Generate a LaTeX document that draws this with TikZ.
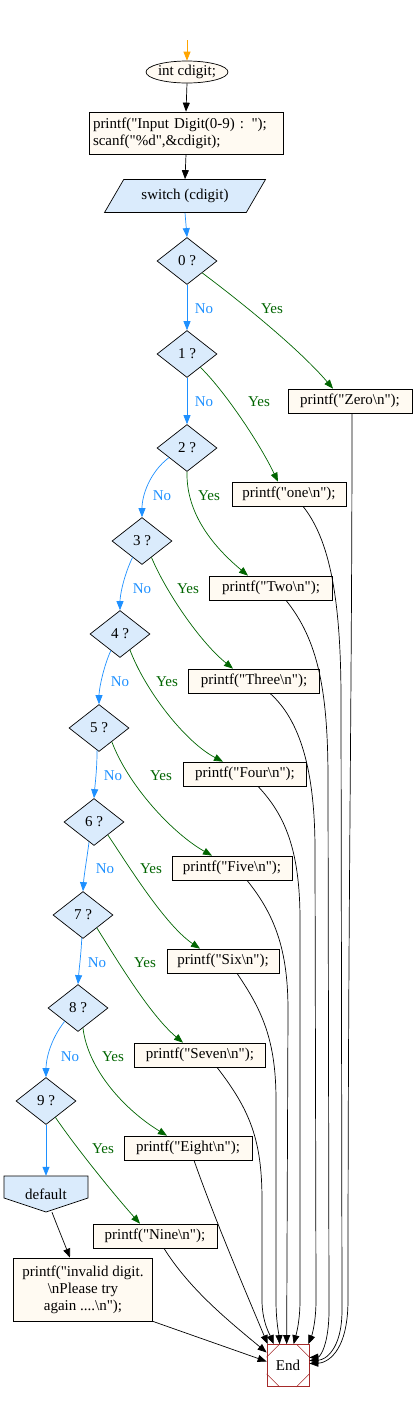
\documentclass[tikz,border=0pt]{standalone}
\usepackage{fontspec}
\setmainfont{Liberation Serif}[Ligatures=TeXOff]
\usetikzlibrary{shapes.geometric,arrows.meta,calc}
\definecolor{dfill}{RGB}{218,235,252}
\definecolor{bfill}{RGB}{255,250,242}
\definecolor{noblue}{RGB}{30,144,255}
\definecolor{yesgreen}{RGB}{0,100,0}
\definecolor{endred}{RGB}{165,42,42}
\definecolor{orng}{RGB}{255,165,0}
\begin{document}
\begin{tikzpicture}[x=1pt,y=-1pt,
  font=\fontsize{15}{17}\selectfont,
  every node/.style={inner sep=0pt},
  arr/.style={-{Triangle[length=9pt,width=7pt]}, line width=0.7pt},
  no/.style={arr, draw=noblue},
  yes/.style={arr, draw=yesgreen},
  dec/.style={diamond, draw, fill=dfill, minimum width=60pt, minimum height=47pt, line width=0.7pt},
  pbox/.style={rectangle, draw, fill=bfill, line width=0.7pt, minimum height=24pt},
  nolab/.style={text=noblue},
  yeslab/.style={text=yesgreen}]
\useasboundingbox (0,0) rectangle (413,1401);

% top part
\coordinate (top) at (187,40);
\node[ellipse, draw, fill=bfill, minimum width=81pt, minimum height=22pt, line width=0.7pt] (e) at (187,72) {int cdigit;};
\node[rectangle, draw, fill=bfill, line width=0.7pt, text width=186pt, align=left, inner sep=4pt, minimum height=42pt] (inp) at (186,133)
  {printf("Input Digit(0-9) : ");\\scanf("\%d",\&cdigit);};
\node[trapezium, trapezium left angle=45, trapezium right angle=135, trapezium stretches=true,
  minimum width=161pt, minimum height=33pt, draw, fill=dfill, line width=0.7pt] (sw) at (185,196) {switch (cdigit)};

% decisions
\node[dec] (d0) at (187,261) {0 ?};
\node[dec] (d1) at (187,354) {1 ?};
\node[dec] (d2) at (187,448) {2 ?};
\node[dec] (d3) at (142,541) {3 ?};
\node[dec] (d4) at (120,634) {4 ?};
\node[dec] (d5) at (99,728) {5 ?};
\node[dec] (d6) at (94,822) {6 ?};
\node[dec] (d7) at (83,915) {7 ?};
\node[dec] (d8) at (78,1008) {8 ?};
\node[dec] (d9) at (46,1101) {9 ?};

% output boxes
\node[pbox, minimum width=124pt] (Zero) at (350,401) {printf("Zero\textbackslash n");};
\node[pbox, minimum width=114pt] (one) at (289,494) {printf("one\textbackslash n");};
\node[pbox, minimum width=123pt] (Two) at (271,588) {printf("Two\textbackslash n");};
\node[pbox, minimum width=131pt] (Three) at (254,681) {printf("Three\textbackslash n");};
\node[pbox, minimum width=123pt] (Four) at (245,774) {printf("Four\textbackslash n");};
\node[pbox, minimum width=120pt] (Five) at (232,868) {printf("Five\textbackslash n");};
\node[pbox, minimum width=112pt] (Six) at (223,961) {printf("Six\textbackslash n");};
\node[pbox, minimum width=131pt] (Seven) at (200,1055) {printf("Seven\textbackslash n");};
\node[pbox, minimum width=128pt] (Eight) at (188,1148) {printf("Eight\textbackslash n");};
\node[pbox, minimum width=124pt] (Nine) at (155,1236) {printf("Nine\textbackslash n");};

% default
\draw[fill=dfill, line width=0.7pt] (4,1176) -- (88,1176) -- (88,1198) -- (46,1212) -- (4,1198) -- cycle;
\node[minimum width=84pt, minimum height=36pt] (def) at (46,1194) {default};

\node[rectangle, draw, fill=bfill, line width=0.7pt, minimum width=139pt, minimum height=63pt, align=center] (inv) at (83,1289.5)
  {printf("invalid digit.\\\textbackslash nPlease try\\again ....\textbackslash n");};

% End
\node[rectangle, draw=endred, minimum size=42pt, line width=0.7pt] (End) at (288,1365.5) {End};
\draw[endred, line width=0.6pt] ($(End.north west)+(13,0)$) -- ($(End.north west)+(0,13)$);
\draw[endred, line width=0.6pt] ($(End.north east)+(-13,0)$) -- ($(End.north east)+(0,13)$);
\draw[endred, line width=0.6pt] ($(End.south west)+(13,0)$) -- ($(End.south west)+(0,-13)$);
\draw[endred, line width=0.6pt] ($(End.south east)+(-13,0)$) -- ($(End.south east)+(0,-13)$);

% top connectors
\draw[arr, draw=orng] (top) -- (e.north);
\draw[arr] (e.south) -- (inp.north);
\draw[arr] (inp.south) -- (sw.north);

% No edges
\draw[no] (sw.south) -- (d0.north);
\draw[no] (d0.south) -- (d1.north);
\draw[no] (d1.south) -- (d2.north);
\draw[no] (d2.-152) .. controls (150,472) and (142,495) .. (d3.north);
\draw[no] (d3.-120) .. controls (124,575) and (120,595) .. (d4.north);
\draw[no] (d4.-119) .. controls (103,668) and (99,690) .. (d5.north);
\draw[no] (d5.-95) .. controls (97,770) and (95,785) .. (d6.north);
\draw[no] (d6.-104) .. controls (87,858) and (84,875) .. (d7.north);
\draw[no] (d7.-93) .. controls (81,955) and (79,970) .. (d8.north);
\draw[no] (d8.-135) .. controls (50,1040) and (46,1060) .. (d9.north);
\draw[no] (d9.south) -- (def.north);

% No labels
\node[nolab] (n0) at (204,309) {No};
\node[nolab] (n1) at (204,402) {No};
\node[nolab] (n2) at (162,496) {No};
\node[nolab] (n3) at (142,589) {No};
\node[nolab] (n4) at (120,682) {No};
\node[nolab] (n5) at (113,776) {No};
\node[nolab] (n6) at (105,869) {No};
\node[nolab] (n7) at (97,963) {No};
\node[nolab] (n8) at (70,1057) {No};

% Yes edges
\draw[yes] (d0.-38) .. controls (245,305) and (300,350) .. ([xshift=-17pt]Zero.north);
\draw[yes] (d1.-45) .. controls (222,388) and (258,440) .. ([xshift=-11pt]one.north);
\draw[yes] (d2.south) .. controls (186,515) and (215,548) .. ([xshift=-23pt]Two.north);
\draw[yes] (d3.-60) .. controls (166,592) and (200,642) .. ([xshift=-21pt]Three.north);
\draw[yes] (d4.-58) .. controls (145,690) and (185,742) .. ([xshift=-22pt]Four.north);
\draw[yes] (d5.-47) .. controls (128,785) and (172,833) .. ([xshift=-20pt]Five.north);
\draw[yes] (d6.-43) .. controls (128,865) and (165,925) .. ([xshift=-23pt]Six.north);
\draw[yes] (d7.-43) .. controls (117,960) and (150,1015) .. ([xshift=-17pt]Seven.north);
\draw[yes] (d8.-76) .. controls (88,1070) and (125,1110) .. ([xshift=-21pt]Eight.north);
\draw[yes] (d9.-60) .. controls (72,1142) and (110,1190) .. ([xshift=-15pt]Nine.north);

% Yes labels
\node[yeslab] (y0) at (272,309) {Yes};
\node[yeslab] (y1) at (259,402) {Yes};
\node[yeslab] (y2) at (209,496) {Yes};
\node[yeslab] (y3) at (188,589) {Yes};
\node[yeslab] (y4) at (167,682) {Yes};
\node[yeslab] (y5) at (161,776) {Yes};
\node[yeslab] (y6) at (151,869) {Yes};
\node[yeslab] (y7) at (145,963) {Yes};
\node[yeslab] (y8) at (113,1057) {Yes};
\node[yeslab] (y9) at (103,1149) {Yes};

% default -> invalid
\draw[arr] ([xshift=6pt]def.south) .. controls (58,1228) and (65,1245) .. ([xshift=-13pt]inv.north);

% edges into End
\draw[arr] ([xshift=2pt]Zero.south) .. controls (352,700) and (348,900) .. (348,1300) .. controls (348,1355) and (325,1363) .. ([yshift=2pt]End.east);
\draw[arr] ([xshift=14pt]one.south) .. controls (330,540) and (341,600) .. (341,700) -- (342,1310) .. controls (342,1350) and (325,1360) .. ([yshift=5pt]End.east);
\draw[arr] ([xshift=15pt]Two.south) .. controls (318,640) and (328,690) .. (328,780) -- (329,1310) .. controls (329,1345) and (320,1357) .. ([yshift=8pt]End.east);
\draw[arr] ([xshift=16pt]Three.south) .. controls (300,720) and (315,770) .. (315,850) -- (316,1300) .. controls (316,1322) and (312,1335) .. ([xshift=-1pt]End.north east);
\draw[arr] ([xshift=13pt]Four.south) .. controls (285,815) and (300,850) .. (300,920) -- (300,1300) .. controls (300,1322) and (296,1335) .. ([xshift=27pt]End.north west);
\draw[arr] ([xshift=15pt]Five.south) .. controls (275,915) and (288,950) .. (288,1010) -- ([xshift=20pt]End.north west);
\draw[arr] ([xshift=14pt]Six.south) .. controls (262,1010) and (276,1040) .. (276,1100) -- (276,1300) .. controls (276,1322) and (279,1335) .. ([xshift=13pt]End.north west);
\draw[arr] ([xshift=17pt]Seven.south) .. controls (250,1110) and (262,1140) .. (262,1200) -- (262,1300) .. controls (262,1322) and (270,1335) .. ([xshift=7pt]End.north west);
\draw[arr] ([xshift=6pt]Eight.south) .. controls (215,1220) and (245,1290) .. ([xshift=1pt]End.north west);
\draw[arr] ([xshift=9pt]Nine.south) .. controls (190,1290) and (230,1322) .. ([yshift=13pt]End.west);
\draw[arr] (inv.south east) .. controls (200,1338) and (240,1352) .. ([yshift=4pt]End.west);
\end{tikzpicture}
\end{document}
